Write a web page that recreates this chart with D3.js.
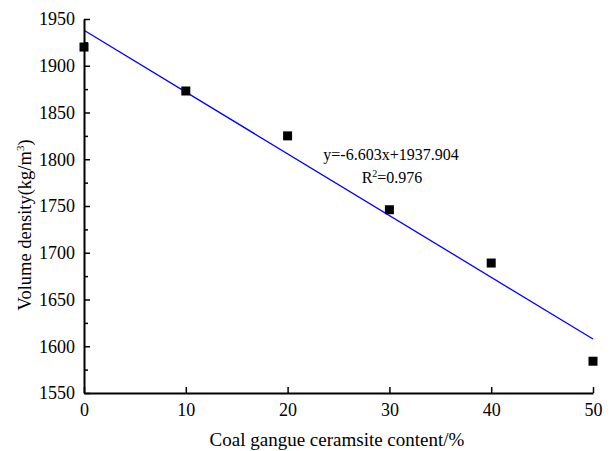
<!DOCTYPE html>
<html>
<head>
<meta charset="utf-8">
<script src="https://cdn.jsdelivr.net/npm/d3@7"></script>
<style>
  body { margin: 0; background: #fff; }
</style>
</head>
<body>
<svg id="chart" width="612" height="451"></svg>
<script>
// data
var contents = [0, 10, 20, 30, 40, 50];
var densities = [1920, 1873, 1825, 1746, 1689, 1584];
var fitSlope = -6.603;
var fitIntercept = 1937.904;
var xTicks = [0, 10, 20, 30, 40, 50];
var yTicks = [1550, 1600, 1650, 1700, 1750, 1800, 1850, 1900, 1950];

var svg = d3.select('#chart');
var margin = {left: 84, right: 19, top: 19, bottom: 58};
var w = 612 - margin.left - margin.right;
var h = 451 - margin.top - margin.bottom;

var x = d3.scaleLinear().domain([0, 50]).range([margin.left, margin.left + w]);
var y = d3.scaleLinear().domain([1550, 1950]).range([margin.top + h, margin.top]);

var g = svg.append('g');

// fitted line
var fit = [0, 50].map(function(d){ return {x: d, y: fitSlope * d + fitIntercept}; });
g.append('path')
    .datum(fit)
    .attr('fill', 'none')
    .attr('stroke', '#0000ff')
    .attr('stroke-width', 1.3)
    .attr('d', d3.line().x(function(d){ return x(d.x); }).y(function(d){ return y(d.y); }));

// points
g.selectAll('rect.pt')
    .data(contents)
    .enter()
    .append('rect')
    .attr('class', 'pt')
    .attr('x', function(d){ return x(d) - 4.5; })
    .attr('y', function(d, i){ return y(densities[i]) - 4.5; })
    .attr('width', 9)
    .attr('height', 9)
    .attr('fill', '#000');

// x axis - ticks point inward
var xAxis = d3.axisBottom(x).tickValues(xTicks).tickFormat(d3.format('d'))
    .tickSizeInner(-6).tickSizeOuter(0).tickPadding(10);
var gx = svg.append('g')
    .attr('transform', 'translate(0,' + (margin.top + h) + ')')
    .call(xAxis);

// y axis with minor ticks
var minor = d3.range(1575, 1950, 50);
var gyMinor = svg.append('g')
    .attr('transform', 'translate(' + margin.left + ',0)')
    .call(d3.axisLeft(y).tickValues(minor).tickSize(-4).tickFormat(''));
gyMinor.select('.domain').remove();

var yAxis = d3.axisLeft(y).tickValues(yTicks).tickFormat(d3.format('d'))
    .tickSizeInner(-6).tickSizeOuter(0).tickPadding(9);
var gy = svg.append('g')
    .attr('transform', 'translate(' + margin.left + ',0)')
    .call(yAxis);

svg.selectAll('.tick text').style('font-size', '18px');
svg.selectAll('.domain').attr('stroke-width', 2);
svg.selectAll('.tick line').attr('stroke-width', 1.5);

// axis titles
svg.append('text')
    .attr('x', 337)
    .attr('y', 446)
    .attr('text-anchor', 'middle')
    .style('font-size', '19px')
    .text('Coal gangue ceramsite content/%');

var yl = svg.append('text')
    .attr('transform', 'translate(31,225) rotate(-90)')
    .attr('text-anchor', 'middle')
    .style('font-size', '18.5px');
yl.append('tspan').text('Volume density(kg/m');
yl.append('tspan').attr('dy', -7).style('font-size', '11px').text('3');
yl.append('tspan').attr('dy', 7).text(')');

// equation annotation
svg.append('text')
    .attr('x', 391)
    .attr('y', 160)
    .attr('text-anchor', 'middle')
    .style('font-size', '16px')
    .text('y=' + fitSlope + 'x+' + fitIntercept.toFixed(3));

var r2 = svg.append('text')
    .attr('x', 392)
    .attr('y', 183)
    .attr('text-anchor', 'middle')
    .style('font-size', '16px');
r2.append('tspan').text('R');
r2.append('tspan').attr('dy', -6).style('font-size', '10px').text('2');
r2.append('tspan').attr('dy', 6).text('=0.976');

// serif everywhere
svg.selectAll('text').style('font-family', 'Liberation Serif').attr('fill', '#000');
</script>
</body>
</html>
